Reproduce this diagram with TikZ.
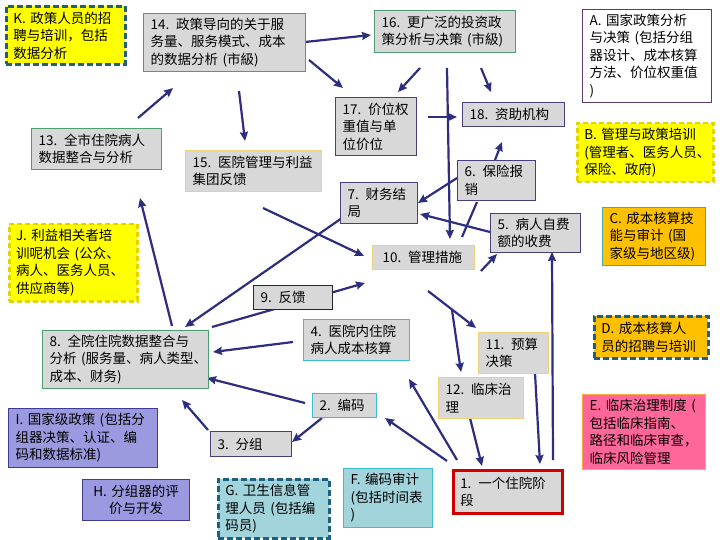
\documentclass[tikz,border=0pt]{standalone}
\usepackage{fontspec}
\setmainfont{Noto Sans CJK SC}
\usetikzlibrary{arrows.meta}
\definecolor{boxgray}{HTML}{D8D8D8}
\definecolor{grn}{HTML}{4D9E72}
\definecolor{purp}{HTML}{4A3F7A}
\definecolor{gold}{HTML}{EDD27A}
\definecolor{cyanb}{HTML}{3ABFD0}
\definecolor{navy}{HTML}{2E2E80}
\definecolor{dteal}{HTML}{1F5F80}
\definecolor{yel}{HTML}{FFFF00}
\definecolor{yeldash}{HTML}{E6D200}
\definecolor{orng}{HTML}{FFC000}
\definecolor{tealb}{HTML}{4DA6A6}
\definecolor{pink}{HTML}{FF6699}
\definecolor{pinkb}{HTML}{FFA64D}
\definecolor{lav}{HTML}{9B99E0}
\definecolor{lavb}{HTML}{3C3C96}
\definecolor{ltteal}{HTML}{A2D4DC}
\definecolor{abord}{HTML}{5A3D6B}
\definecolor{redb}{HTML}{D00000}
\newcommand\mybox[7]{\pgfmathsetmacro\mytw{#5-14}\node[#2, minimum width=#5pt, minimum height=#6pt, text width=\mytw pt] (#1) at (#3,#4) {#7};}
\begin{document}
\begin{tikzpicture}[x=1pt,y=-1pt,
  base/.style={rectangle, anchor=north west, inner xsep=7pt, inner ysep=2pt, align=left, font=\fontsize{13.5}{17.5}\selectfont, line width=1.1pt},
  gbox/.style={base, fill=boxgray},
  greenbox/.style={gbox, draw=grn},
  purpbox/.style={gbox, draw=purp},
  goldbox/.style={gbox, draw=gold},
  cyanbox/.style={gbox, draw=cyanb},
  blackbox/.style={gbox, draw=black!85},
  redbox/.style={gbox, draw=redb, line width=2.5pt},
  tealdash/.style={draw=dteal, line width=2.8pt, dash pattern=on 6pt off 3pt},
  yelbox/.style={base, fill=yel, draw=yeldash, line width=2.5pt, dash pattern=on 5pt off 3pt},
  arr/.style={draw=navy, line width=2.2pt, -{Stealth[length=9pt,width=8pt,inset=1pt]}},
  ln/.style={draw=navy, line width=2.2pt}]
\useasboundingbox (0,0) rectangle (720,540);
% connector end points
\coordinate (a1s) at (305,42);  \coordinate (a1e) at (371,35);
\coordinate (a2s) at (309,60);  \coordinate (a2e) at (343,88);
\coordinate (a3s) at (239,91);  \coordinate (a3e) at (245,141);
\coordinate (a4s) at (138,118); \coordinate (a4e) at (173,88);
\coordinate (a5s) at (420,68);  \coordinate (a5e) at (398,92);
\coordinate (a6s) at (481,68);  \coordinate (a6e) at (491,92);
\coordinate (a7s) at (447,68);  \coordinate (a7e) at (450,239);
\coordinate (a8s) at (428,117); \coordinate (a8e) at (457,117);
\coordinate (a9s) at (495,160); \coordinate (a9e) at (502,142);
\coordinate (a10s) at (457,178); \coordinate (a10e) at (418,203);
\coordinate (a11s) at (490,232); \coordinate (a11e) at (420,214);
\coordinate (a12s) at (462,237); \coordinate (a12e) at (477,202);
\coordinate (a13s) at (481,271); \coordinate (a13e) at (497,254);
\coordinate (a14s) at (553,460); \coordinate (a14e) at (552,252);
\coordinate (a15s) at (535,373); \coordinate (a15e) at (540,464);
\coordinate (a16s) at (428,291); \coordinate (a16e) at (476,328);
\coordinate (a16b) at (452,310); \coordinate (a16f) at (461,372);
\coordinate (a17s) at (470,418); \coordinate (a17e) at (482,466);
\coordinate (a18s) at (457,460); \coordinate (a18e) at (409,379);
\coordinate (a19s) at (447,461); \coordinate (a19e) at (385,418);
\coordinate (a20s) at (305,403); \coordinate (a20e) at (207,378);
\coordinate (a21s) at (322,418); \coordinate (a21e) at (292,442);
\coordinate (a22s) at (208,430); \coordinate (a22e) at (182,400);
\coordinate (a23s) at (293,342); \coordinate (a23e) at (213,352);
\coordinate (a24s) at (212,327); \coordinate (a24e) at (365,283);
\coordinate (a25s) at (342,218); \coordinate (a25e) at (185,327);
\coordinate (a26s) at (263,208); \coordinate (a26e) at (364,256);
\coordinate (a27s) at (172,326); \coordinate (a27e) at (140,198);
% connectors
\draw[arr] (a1s) -- (a1e);
\draw[arr] (a2s) -- (a2e);
\draw[arr] (a3s) -- (a3e);
\draw[arr] (a4s) -- (a4e);
\draw[arr] (a5s) -- (a5e);
\draw[arr] (a6s) -- (a6e);
\draw[arr] (a7s) -- (a7e);
\draw[arr] (a8s) -- (a8e);
\draw[arr] (a9s) -- (a9e);
\draw[arr] (a10s) -- (a10e);
\draw[arr] (a11s) -- (a11e);
\draw[ln] (a12s) -- (a12e);
\draw[arr] (a13s) -- (a13e);
\draw[arr] (a14s) -- (a14e);
\draw[arr] (a15s) -- (a15e);
\draw[arr] (a16s) -- (a16e);
\draw[arr] (a16b) -- (a16f);
\draw[arr] (a17s) -- (a17e);
\draw[arr] (a18s) -- (a18e);
\draw[arr] (a19s) -- (a19e);
\draw[arr] (a20s) -- (a20e);
\draw[arr] (a21s) -- (a21e);
\draw[arr] (a22s) -- (a22e);
\draw[arr] (a23s) -- (a23e);
\draw[arr] (a24s) -- (a24e);
\draw[arr] (a25s) -- (a25e);
\draw[arr] (a26s) -- (a26e);
\draw[arr] (a27s) -- (a27e);
% boxes
\mybox{nK}{base, fill=yel, tealdash}{5}{5}{119}{58}{K. 政策人员的招\\聘与培训，包括\\数据分析}
\mybox{n14}{greenbox}{143}{13}{162}{58}{14. 政策导向的关于服\\务量、服务模式、成本\\的数据分析~(市級)}
\mybox{n16}{greenbox}{374}{10}{141}{42}{16. 更广泛的投资政\\策分析与决策~(市級)}
\mybox{nA}{base, fill=white, draw=abord}{582}{9}{129}{93}{A. 国家政策分析\\与决策~(包括分组\\器设计、成本核算\\方法、价位权重值\\)}
\mybox{n17}{purpbox}{335}{97}{81}{58}{17. 价位权\\重值与单\\位价位}
\mybox{n18}{purpbox}{462}{102}{102}{24}{18. 资助机构}
\mybox{nB}{yelbox}{576}{122}{136}{59}{B. 管理与政策培训\\(管理者、医务人员、\\保险、政府)}
\mybox{n13}{greenbox}{31}{128}{130}{41}{13. 全市住院病人\\数据整合与分析}
\mybox{n15}{goldbox}{185}{150}{136}{41}{15. 医院管理与利益\\集团反馈}
\mybox{n7}{purpbox}{340}{182}{77}{41}{7. 财务结\\局}
\mybox{n6}{purpbox}{457}{160}{78}{40}{6. 保险报\\销}
\mybox{n5}{purpbox}{490}{213}{90}{39}{5. 病人自费\\额的收费}
\mybox{nC}{base, fill=orng, draw=tealb}{602}{207}{103}{58}{C. 成本核算技\\能与审计~(国\\家级与地区级)}
\mybox{nJ}{yelbox}{8}{223}{128}{77}{J. 利益相关者培\\训呢机会~(公众、\\病人、医务人员、\\供应商等)}
\mybox{n10}{goldbox}{372}{245}{102}{24}{\hspace*{3pt}10. 管理措施}
\mybox{n9}{blackbox}{253}{285}{79}{24}{9. 反馈}
\mybox{n4}{cyanbox}{303}{319}{106}{41}{4. 医院内住院\\病人成本核算}
\mybox{n8}{greenbox, inner xsep=6pt}{42}{330}{166}{58}{8. 全院住院数据整合与\\分析~(服务量、病人类型、\\成本、财务)}
\mybox{n11}{goldbox}{478}{332}{70}{41}{11. 预算\\决策}
\mybox{nD}{base, fill=orng, tealdash}{593}{315}{114}{42}{D. 成本核算人\\员的招聘与培训}
\mybox{n2}{cyanbox}{312}{393}{64}{24}{2. 编码}
\mybox{n12}{goldbox}{438}{377}{85}{41}{12. 临床治\\理}
\mybox{nE}{base, fill=pink, draw=pinkb}{582}{394}{123}{75}{E. 临床治理制度~(\\包括临床指南、\\路径和临床审查，\\临床风险管理}
\mybox{nI}{base, fill=lav, draw=lavb}{8}{408}{149}{59}{I. 国家级政策~(包括分\\组器决策、认证、编\\码和数据标准)}
\mybox{n3}{purpbox}{210}{431}{81}{25}{3. 分组}
\mybox{nH}{base, fill=lav, draw=lavb, align=center}{82}{479}{107}{41}{H. 分组器的评\\价与开发}
\mybox{nG}{base, fill=ltteal, tealdash}{217}{478}{111}{59}{G. 卫生信息管\\理人员~(包括编\\码员)}
\mybox{nF}{base, fill=ltteal, draw=cyanb}{343}{468}{89}{59}{F. 编码审计\\(包括时间表\\)}
\mybox{n1}{redbox}{452}{469}{109}{43}{1. 一个住院阶\\段}
\end{tikzpicture}
\end{document}
